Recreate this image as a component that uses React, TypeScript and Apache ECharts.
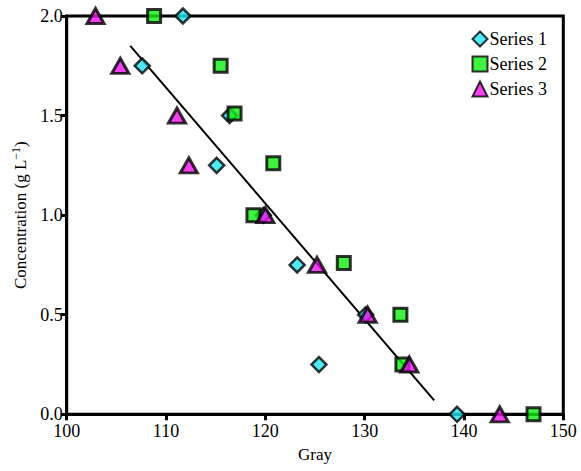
import React, { useEffect, useRef } from "react";
import * as echarts from "echarts";

const series1X = [111.7, 107.6, 116.4, 115.1, 119.8, 123.2, 130.1, 125.4, 139.3];
const series1Y = [2.0, 1.75, 1.5, 1.25, 1.0, 0.75, 0.5, 0.25, 0.0];
const series2X = [108.8, 115.5, 116.9, 120.8, 118.8, 127.9, 133.6, 133.8, 147.0];
const series2Y = [2.0, 1.75, 1.51, 1.26, 1.0, 0.76, 0.5, 0.25, 0.0];
const series3X = [102.9, 105.4, 111.1, 112.3, 120.0, 125.2, 130.3, 134.5, 143.6];
const series3Y = [2.0, 1.75, 1.5, 1.25, 1.0, 0.75, 0.5, 0.25, 0.0];
const fitX = [106.4, 137.0];
const fitY = [1.85, 0.07];
const seriesNames = ["Series 1", "Series 2", "Series 3"];

const zip = (xs: number[], ys: number[]) => xs.map((x, i) => [x, ys[i]]);

export default function App() {
  const ref = useRef<HTMLDivElement>(null);
  useEffect(() => {
    if (!ref.current) return;
    const chart = echarts.init(ref.current, null, { renderer: "svg" });
    const font = "'Liberation Serif', 'Times New Roman', serif";
    const axisCommon = {
      axisLine: { show: true, lineStyle: { color: "#000", width: 3 } },
      axisTick: { show: true, inside: false, length: 6, lineStyle: { color: "#000", width: 3 } },
      splitLine: { show: false },
      axisLabel: { color: "#000", fontFamily: font, fontSize: 18 },
      nameTextStyle: { color: "#000", fontFamily: font, fontSize: 17 },
    };
    chart.setOption({
      animation: false,
      backgroundColor: "#fff",
      grid: {
        left: 66.7,
        right: 17.7,
        top: 16,
        bottom: 56.7,
        show: true,
        borderColor: "#000",
        borderWidth: 3,
      },
      legend: {
        data: seriesNames,
        orient: "vertical",
        right: 29,
        top: 25,
        itemWidth: 15,
        itemHeight: 15,
        itemGap: 7,
        textStyle: { color: "#000", fontFamily: font, fontSize: 18, lineHeight: 16, padding: [0, 0, 0, -3] },
      },
      xAxis: {
        type: "value",
        min: 100,
        max: 150,
        interval: 10,
        name: "Gray",
        nameLocation: "middle",
        nameGap: 32,
        ...axisCommon,
        axisLabel: { ...axisCommon.axisLabel, margin: 8 },
      },
      yAxis: {
        type: "value",
        min: 0,
        max: 2,
        interval: 0.5,
        name: "Concentration (g L{sup|\u22121})",
        nameLocation: "middle",
        nameGap: 35,
        ...axisCommon,
        nameTextStyle: {
          ...axisCommon.nameTextStyle,
          rich: {
            sup: { fontFamily: font, fontSize: 12, color: "#000", verticalAlign: "top", padding: [0, 0, 10, 0] },
          },
        },
        axisLabel: {
          ...axisCommon.axisLabel,
          margin: 4,
          formatter: (v: number) => v.toFixed(1),
        },
      },
      series: [
        {
          type: "line",
          data: zip(fitX, fitY),
          symbol: "none",
          lineStyle: { color: "#000", width: 2 },
          z: 1,
          silent: true,
        },
        {
          name: seriesNames[0],
          type: "scatter",
          data: zip(series1X, series1Y),
          symbol: "diamond",
          symbolSize: 15,
          itemStyle: { color: "#22e3f0", borderColor: "#000", borderWidth: 2.5 },
          z: 2,
        },
        {
          name: seriesNames[1],
          type: "scatter",
          data: zip(series2X, series2Y),
          symbol: "rect",
          symbolSize: 13,
          itemStyle: { color: "#11ee11", borderColor: "#000", borderWidth: 3 },
          z: 3,
        },
        {
          name: seriesNames[2],
          type: "scatter",
          data: zip(series3X, series3Y),
          symbol: "triangle",
          symbolSize: [17, 15],
          itemStyle: { color: "#ee11ee", borderColor: "#000", borderWidth: 3 },
          z: 4,
        },
      ],
    });
    return () => chart.dispose();
  }, []);
  return (
    <div
      ref={ref}
      style={{ position: "fixed", left: 0, top: 0, width: 581, height: 471, background: "#fff" }}
    />
  );
}
